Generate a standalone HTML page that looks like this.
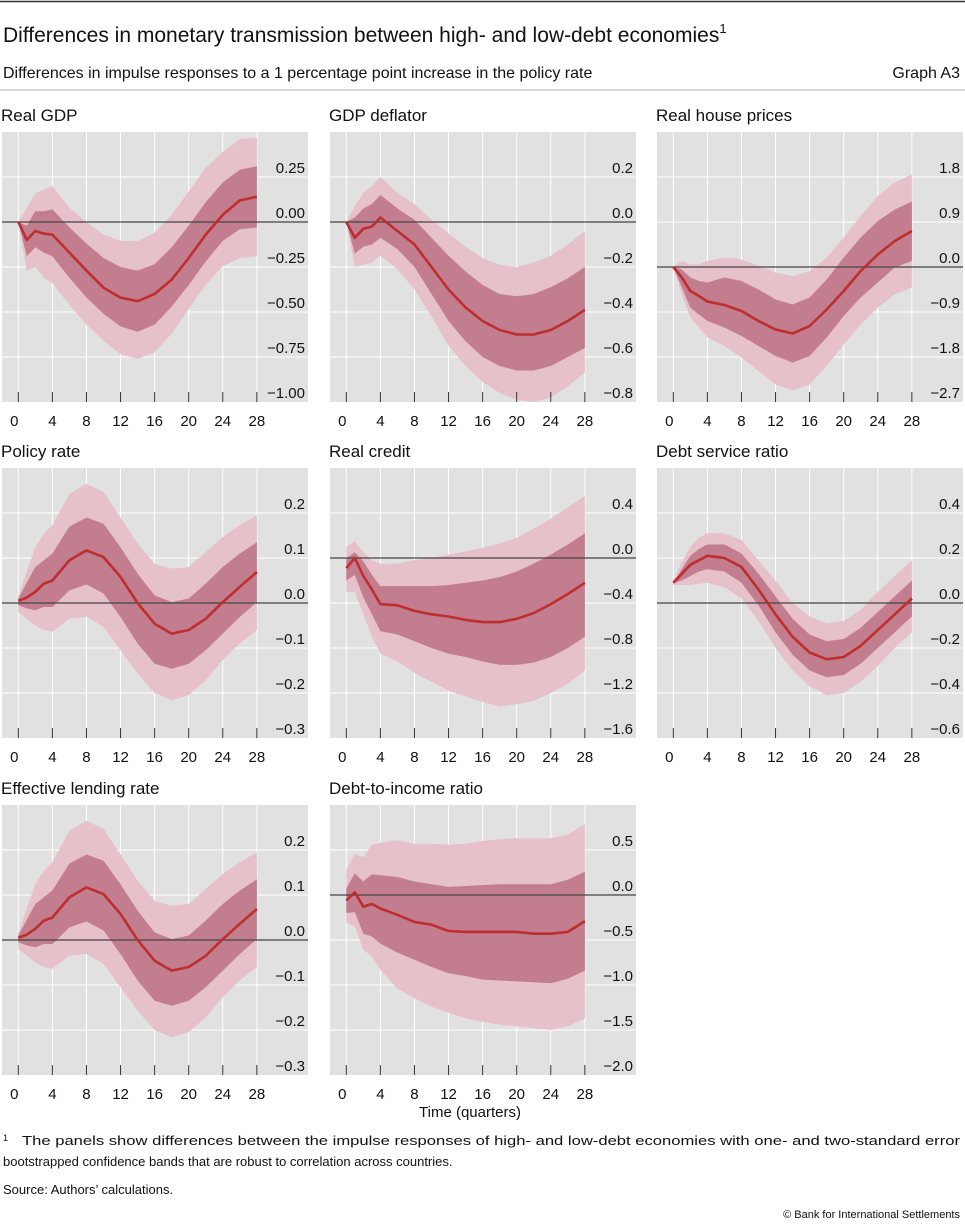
<!DOCTYPE html>
<html><head><meta charset="utf-8">
<style>
body{margin:0;background:#fff;font-family:"Liberation Sans",sans-serif;}
#wrap{position:relative;width:965px;height:1229px;overflow:hidden;}
</style></head>
<body>
<div id="wrap">
<svg id="svg" width="965" height="1229" xmlns="http://www.w3.org/2000/svg" font-family="Liberation Sans, sans-serif">
<line x1="0" y1="1.5" x2="965" y2="1.5" stroke="#333" stroke-width="1.5"/>
<text x="3" y="42" font-size="21" fill="#111">Differences in monetary transmission between high- and low-debt economies<tspan font-size="13" dy="-9">1</tspan></text>
<text x="3" y="78" font-size="16" fill="#111">Differences in impulse responses to a 1 percentage point increase in the policy rate</text>
<text x="960" y="78" font-size="16" fill="#111" text-anchor="end">Graph A3</text>
<line x1="0" y1="90" x2="965" y2="90" stroke="#999" stroke-width="0.7"/>
<text x="470" y="1117" font-size="15" fill="#111" text-anchor="middle">Time (quarters)</text>
<text x="3" y="1141" font-size="9" fill="#111">1</text>
<text x="22" y="1145" font-size="13" fill="#111" textLength="938" lengthAdjust="spacingAndGlyphs">The panels show differences between the impulse responses of high- and low-debt economies with one- and two-standard error</text>
<text x="3" y="1166" font-size="13" fill="#111">bootstrapped confidence bands that are robust to correlation across countries.</text>
<text x="3" y="1194" font-size="13" fill="#111">Source: Authors’ calculations.</text>
<text x="960" y="1218" font-size="11" fill="#111" text-anchor="end">© Bank for International Settlements</text>
<g id="panels"></g>
</svg>
</div>
<script>
const quarters = [0,1,2,3,4,6,8,10,12,14,16,18,20,22,24,26,28];
const xTickLabels = [0,4,8,12,16,20,24,28];
const panelTitles = ["Real GDP","GDP deflator","Real house prices","Policy rate","Real credit","Debt service ratio","Effective lending rate","Debt-to-income ratio"];
const yTickLabels = [
 ["−1.00","−0.75","−0.50","−0.25","0.00","0.25"],
 ["−0.8","−0.6","−0.4","−0.2","0.0","0.2"],
 ["−2.7","−1.8","−0.9","0.0","0.9","1.8"],
 ["−0.3","−0.2","−0.1","0.0","0.1","0.2"],
 ["−1.6","−1.2","−0.8","−0.4","0.0","0.4"],
 ["−0.6","−0.4","−0.2","0.0","0.2","0.4"],
 ["−0.3","−0.2","−0.1","0.0","0.1","0.2"],
 ["−2.0","−1.5","−1.0","−0.5","0.0","0.5"]];
const yMin = [-1.0,-0.8,-2.7,-0.3,-1.6,-0.6,-0.3,-2.0];
const yStep = [0.25,0.2,0.9,0.1,0.4,0.2,0.1,0.5];

const gdpLine = [0,-0.10,-0.05,-0.065,-0.07,-0.17,-0.27,-0.365,-0.42,-0.44,-0.40,-0.32,-0.20,-0.07,0.04,0.12,0.14];
const gdpInnerHi = [0,-0.02,0.06,0.06,0.07,-0.03,-0.12,-0.20,-0.25,-0.27,-0.235,-0.14,-0.02,0.11,0.22,0.29,0.31];
const gdpInnerLo = [0,-0.19,-0.14,-0.17,-0.19,-0.31,-0.42,-0.51,-0.58,-0.61,-0.57,-0.47,-0.35,-0.22,-0.105,-0.04,-0.03];
const gdpOuterHi = [0,0.08,0.16,0.18,0.20,0.08,0,-0.07,-0.105,-0.105,-0.06,0.04,0.17,0.30,0.39,0.46,0.47];
const gdpOuterLo = [0,-0.27,-0.25,-0.31,-0.34,-0.46,-0.57,-0.66,-0.735,-0.76,-0.725,-0.62,-0.485,-0.35,-0.245,-0.20,-0.19];

const defLine = [0,-0.07,-0.03,-0.02,0.02,-0.04,-0.10,-0.20,-0.30,-0.38,-0.44,-0.48,-0.50,-0.50,-0.48,-0.44,-0.39];
const defInnerHi = [0,0.02,0.06,0.08,0.12,0.06,0.01,-0.07,-0.15,-0.22,-0.28,-0.32,-0.33,-0.32,-0.29,-0.25,-0.20];
const defInnerLo = [0,-0.14,-0.11,-0.10,-0.07,-0.12,-0.20,-0.32,-0.44,-0.53,-0.60,-0.64,-0.66,-0.66,-0.64,-0.60,-0.56];
const defOuterHi = [0,0.07,0.13,0.16,0.20,0.13,0.08,0.01,-0.05,-0.11,-0.16,-0.19,-0.20,-0.18,-0.15,-0.10,-0.04];
const defOuterLo = [0,-0.20,-0.19,-0.18,-0.15,-0.21,-0.30,-0.42,-0.55,-0.64,-0.71,-0.76,-0.79,-0.80,-0.78,-0.73,-0.67];

const houseLine = [0,-0.21,-0.48,-0.58,-0.69,-0.76,-0.88,-1.08,-1.25,-1.33,-1.18,-0.85,-0.48,-0.08,0.25,0.52,0.72];
const houseInnerHi = [0,-0.05,-0.21,-0.28,-0.31,-0.21,-0.28,-0.45,-0.65,-0.75,-0.61,-0.25,0.19,0.59,0.92,1.15,1.31];
const houseInnerLo = [0,-0.41,-0.81,-0.95,-1.08,-1.21,-1.38,-1.58,-1.78,-1.91,-1.78,-1.41,-0.98,-0.61,-0.31,-0.01,0.12];
const houseOuterHi = [0,0.12,0.05,0.05,0.12,0.19,0.15,0.02,-0.11,-0.18,-0.08,0.19,0.59,1.02,1.42,1.69,1.85];
const houseOuterLo = [0,-0.55,-1.01,-1.21,-1.41,-1.58,-1.81,-2.08,-2.35,-2.47,-2.35,-1.98,-1.55,-1.15,-0.81,-0.55,-0.41];

const rateLine = [0.005,0.012,0.025,0.043,0.05,0.095,0.117,0.102,0.058,0,-0.046,-0.068,-0.06,-0.035,0.002,0.036,0.069];
const rateInnerHi = [0.01,0.045,0.08,0.095,0.11,0.17,0.19,0.176,0.124,0.065,0.017,0.002,0.01,0.043,0.08,0.11,0.135];
const rateInnerLo = [-0.005,-0.012,-0.016,-0.009,-0.009,0.028,0.041,0.021,-0.031,-0.09,-0.135,-0.146,-0.135,-0.105,-0.068,-0.031,0.002];
const rateOuterHi = [0.015,0.07,0.124,0.154,0.173,0.243,0.265,0.247,0.19,0.132,0.087,0.076,0.08,0.113,0.147,0.173,0.195];
const rateOuterLo = [-0.02,-0.035,-0.05,-0.06,-0.064,-0.035,-0.031,-0.053,-0.105,-0.157,-0.2,-0.216,-0.205,-0.172,-0.127,-0.09,-0.06];

const creditLine = [-0.09,0,-0.16,-0.28,-0.41,-0.42,-0.47,-0.50,-0.52,-0.55,-0.57,-0.57,-0.54,-0.49,-0.41,-0.32,-0.22];
const creditInnerHi = [0,0.05,-0.03,-0.15,-0.25,-0.25,-0.25,-0.25,-0.24,-0.22,-0.20,-0.17,-0.12,-0.05,0.03,0.12,0.22];
const creditInnerLo = [-0.2,-0.15,-0.35,-0.5,-0.65,-0.68,-0.74,-0.80,-0.85,-0.88,-0.92,-0.95,-0.95,-0.93,-0.88,-0.80,-0.70];
const creditOuterHi = [0.1,0.15,0.05,-0.02,-0.05,-0.05,-0.02,0,0.03,0.06,0.09,0.13,0.18,0.26,0.35,0.45,0.55];
const creditOuterLo = [-0.3,-0.3,-0.5,-0.7,-0.85,-0.92,-1.02,-1.10,-1.18,-1.23,-1.28,-1.32,-1.30,-1.27,-1.20,-1.12,-1.00];

const dsrLine = [0.09,0.13,0.17,0.19,0.21,0.20,0.16,0.06,-0.05,-0.15,-0.22,-0.25,-0.24,-0.19,-0.12,-0.05,0.02];
const dsrInnerHi = [0.09,0.15,0.21,0.24,0.26,0.26,0.22,0.13,0.03,-0.07,-0.14,-0.17,-0.16,-0.11,-0.04,0.03,0.10];
const dsrInnerLo = [0.09,0.10,0.12,0.14,0.15,0.14,0.09,-0.01,-0.13,-0.23,-0.30,-0.33,-0.32,-0.27,-0.20,-0.13,-0.06];
const dsrOuterHi = [0.10,0.18,0.25,0.29,0.31,0.31,0.28,0.19,0.10,0,-0.06,-0.09,-0.08,-0.03,0.05,0.12,0.19];
const dsrOuterLo = [0.08,0.08,0.08,0.085,0.09,0.07,0.02,-0.08,-0.20,-0.30,-0.37,-0.41,-0.40,-0.35,-0.28,-0.20,-0.13];

const dtiLine = [-0.06,0.03,-0.13,-0.10,-0.15,-0.22,-0.30,-0.33,-0.40,-0.41,-0.41,-0.41,-0.41,-0.43,-0.43,-0.41,-0.29];
const dtiInnerHi = [0.07,0.24,0.15,0.23,0.22,0.20,0.15,0.12,0.09,0.10,0.11,0.12,0.12,0.12,0.12,0.17,0.26];
const dtiInnerLo = [-0.20,-0.19,-0.43,-0.46,-0.54,-0.64,-0.72,-0.80,-0.87,-0.90,-0.94,-0.95,-0.96,-0.97,-0.98,-0.93,-0.84];
const dtiOuterHi = [0.28,0.46,0.42,0.56,0.58,0.61,0.57,0.57,0.56,0.57,0.60,0.62,0.63,0.63,0.63,0.67,0.79];
const dtiOuterLo = [-0.31,-0.35,-0.61,-0.68,-0.83,-1.04,-1.15,-1.24,-1.31,-1.37,-1.41,-1.44,-1.46,-1.48,-1.50,-1.46,-1.37];

const panelSeries = [
 [gdpLine,gdpInnerHi,gdpInnerLo,gdpOuterHi,gdpOuterLo],
 [defLine,defInnerHi,defInnerLo,defOuterHi,defOuterLo],
 [houseLine,houseInnerHi,houseInnerLo,houseOuterHi,houseOuterLo],
 [rateLine,rateInnerHi,rateInnerLo,rateOuterHi,rateOuterLo],
 [creditLine,creditInnerHi,creditInnerLo,creditOuterHi,creditOuterLo],
 [dsrLine,dsrInnerHi,dsrInnerLo,dsrOuterHi,dsrOuterLo],
 [rateLine,rateInnerHi,rateInnerLo,rateOuterHi,rateOuterLo],
 [dtiLine,dtiInnerHi,dtiInnerLo,dtiOuterHi,dtiOuterLo]];

const NS="http://www.w3.org/2000/svg";
const root=document.getElementById('panels');
function mk(tag,attrs,parent){const e=document.createElementNS(NS,tag);for(const k in attrs)e.setAttribute(k,attrs[k]);parent.appendChild(e);return e;}
const colX=[2,330,657], rowTop=[132,468,805], W=306, H=270;
function slug(s){return s.toLowerCase().replace(/[^a-z0-9]+/g,'-').replace(/-$/,'');}
panelTitles.forEach((title,i)=>{
  const px=colX[i%3], py=rowTop[Math.floor(i/3)];
  const s=slug(title);
  const g=mk('g',{},root);
  
  
  const xs=q=>px+16.3+q*8.52;
  const unitPx=45/yStep[i];
  const ys=v=>py+H-(v-yMin[i])*unitPx;
  const t=mk('text',{x:px-1,y:py-11,'font-size':17,fill:'#111'},g);t.textContent=title;
  
  
  const bg=mk('rect',{x:px,y:py,width:W,height:H,fill:'#e1e1e1'},g);
  
  
  yTickLabels[i].forEach((lab,k)=>{
    const v=yMin[i]+k*yStep[i];const y=ys(v);
    if(k>0){const gl=mk('line',{x1:px,x2:px+W,y1:y,y2:y,stroke:'#fff','stroke-width':1},g);
      
      }
  });
  xTickLabels.forEach(q=>{const x=xs(q);
    const gl=mk('line',{x1:x,x2:x,y1:py,y2:py+H,stroke:'#fff','stroke-width':1},g);
    
    });
  const ser=panelSeries[i];
  function band(hi,lo,fill,name){
    let d='M'+quarters.map((q,j)=>xs(q).toFixed(1)+','+ys(hi[j]).toFixed(1)).join('L');
    for(let j=quarters.length-1;j>=0;j--)d+='L'+xs(quarters[j]).toFixed(1)+','+ys(lo[j]).toFixed(1);
    const p=mk('path',{d:d+'Z',fill:fill},g);
    
    
  }
  band(ser[3],ser[4],'#e6c1c9',s+'-two-se-band');
  band(ser[1],ser[2],'#c27d8f',s+'-one-se-band');
  const zy=ys(0);
  const zl=mk('line',{x1:px,x2:px+W,y1:zy,y2:zy,stroke:'#444','stroke-width':1.2},g);
  
  
  const ln=mk('polyline',{points:quarters.map((q,j)=>xs(q).toFixed(1)+','+ys(ser[0][j]).toFixed(1)).join(' '),fill:'none',stroke:'#bf2e2e','stroke-width':2.6,'stroke-linejoin':'round'},g);
  
  
  yTickLabels[i].forEach((lab,k)=>{
    const v=yMin[i]+k*yStep[i];const y=ys(v);
    const tt=mk('text',{x:px+W-3,y:y-4,'font-size':15,fill:'#111','text-anchor':'end'},g);tt.textContent=lab;
    
    
  });
  xTickLabels.forEach(q=>{const x=xs(q);
    const tk=mk('line',{x1:x,x2:x,y1:py+H-10,y2:py+H,stroke:'#333','stroke-width':1},g);
    
    
    const tt=mk('text',{x:x-(q===0?4:0),y:py+H+24,'font-size':15,fill:'#111','text-anchor':'middle'},g);tt.textContent=q;
    
    
  });
});
</script>
</body></html>
